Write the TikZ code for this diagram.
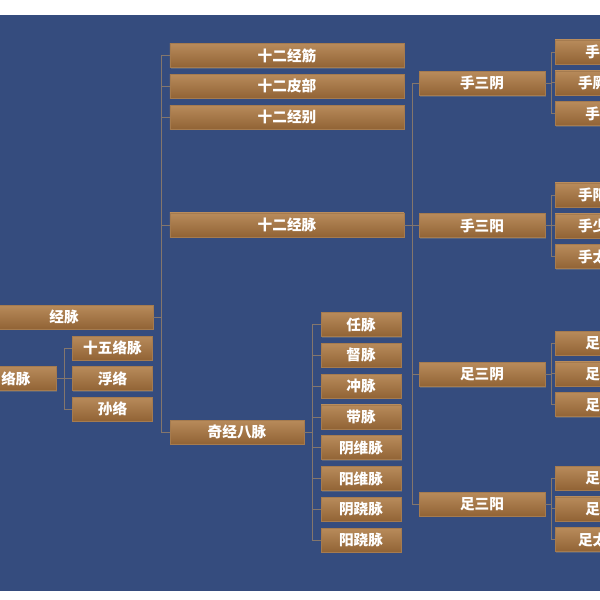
\documentclass[tikz,border=0pt]{standalone}
\usepackage{fontspec}
\setmainfont{Noto Sans CJK SC}
\usetikzlibrary{shadows}

\definecolor{bgblue}{HTML}{354C7E}
\definecolor{boxtop}{HTML}{B88B5B}
\definecolor{boxbot}{HTML}{916335}
\definecolor{boxline}{HTML}{A57B4F}
\definecolor{linkgray}{HTML}{84766C}

\tikzset{
  box/.style={draw=boxline, line width=0.4pt, top color=boxtop, bottom color=boxbot,
    text=white, font=\bfseries\fontsize{12.5}{12.5}\selectfont, minimum height=0.72cm,
    inner sep=0pt, drop shadow={opacity=0.45, shadow xshift=0.8pt, shadow yshift=-1pt}},
  wide/.style={box, minimum width=7.02cm},
  mid/.style={box, minimum width=3.78cm},
  small/.style={box, minimum width=2.4cm},
  far/.style={box, minimum width=4.02cm},
  link/.style={draw=linkgray, line width=0.6pt},
}

\begin{document}
\begin{tikzpicture}[x=0.03cm, y=-0.03cm, node distance=0.924cm]
\useasboundingbox (0,0) rectangle (600,600);
\fill[white] (0,0) rectangle (600,600);
\fill[bgblue] (0,15) rectangle (600,591);
\begin{scope}
\clip (0,15) rectangle (600,591);

\node(jingmai)	[box, minimum width=5.34cm] at (64,317)	{经脉};
\node(luomai)	[small] at (16,378.5)	{络脉};

\node(shiwu)	[small] at (112.5,348)	{十五络脉};
\node(fuluo)	[small, below of=shiwu, node distance=0.915cm]	{浮络};
\node(sunluo)	[small, below of=fuluo, node distance=0.915cm]	{孙络};

\node(jingjin)	[wide] at (287,55.5)	{十二经筋};
\node(pibu)	[wide, below of=jingjin]	{十二皮部};
\node(jingbie)	[wide, below of=pibu]	{十二经别};
\node(zhengjing)	[wide] at (287,225)	{十二经脉};
\node(qijing)	[far] at (237,432)	{奇经八脉};

\node(ren)	[small] at (361,324.5)	{任脉};
\node(du)	[small, below of=ren]	{督脉};
\node(chong)	[small, below of=du]	{冲脉};
\node(dai)	[small, below of=chong]	{带脉};
\node(yinwei)	[small, below of=dai]	{阴维脉};
\node(yangwei)	[small, below of=yinwei]	{阳维脉};
\node(yinqiao)	[small, below of=yangwei]	{阴跷脉};
\node(yangqiao)	[small, below of=yinqiao]	{阳跷脉};

\node(shousanyin)	[mid] at (482,83.5)	{手三阴};
\node(shousanyang)	[mid] at (482,225.5)	{手三阳};
\node(zusanyin)	[mid] at (482,374.5)	{足三阴};
\node(zusanyang)	[mid] at (482,504)	{足三阳};

\node(shouyin1)	[far] at (622,52)	{手太阴肺经};
\node(shouyin2)	[far, below of=shouyin1]	{手厥阴心包经};
\node(shouyin3)	[far, below of=shouyin2]	{手少阴心经};

\node(shouyang1)	[far] at (622,195)	{手阳明大肠经};
\node(shouyang2)	[far, below of=shouyang1]	{手少阳三焦经};
\node(shouyang3)	[far, below of=shouyang2]	{手太阳小肠经};

\node(zuyin1)	[far] at (622,343)	{足太阴脾经};
\node(zuyin2)	[far, below of=zuyin1]	{足厥阴肝经};
\node(zuyin3)	[far, below of=zuyin2]	{足少阴肾经};

\node(zuyang1)	[far] at (622,478)	{足阳明胃经};
\node(zuyang2)	[far, below of=zuyang1]	{足少阳胆经};
\node(zuyang3)	[far, below of=zuyang2]	{足太阳膀胱经};

\foreach \x in {jingjin,pibu,jingbie,zhengjing,qijing} {
	\draw [link] (jingmai.east) -- ++(8,0) |- (\x.west); }

\foreach \x in {shiwu,fuluo,sunluo} {
	\draw [link] (luomai.east) -- ++(8,0) |- (\x.west); }

\foreach \x in {ren,du,chong,dai,yinwei,yangwei,yinqiao,yangqiao} {
	\draw [link] (qijing.east) -- ++(8,0) |- (\x.west); }

\foreach \x in {shousanyin,shousanyang,zusanyin,zusanyang} {
	\draw [link] (zhengjing.east) -- ++(8,0) |- (\x.west); }

\foreach \x in {1,2,3} {
	\draw [link] (shousanyin.east) -- ++(6,0) |- (shouyin\x.west);
	\draw [link] (shousanyang.east) -- ++(6,0) |- (shouyang\x.west);
	\draw [link] (zusanyin.east) -- ++(6,0) |- (zuyin\x.west);
	\draw [link] (zusanyang.east) -- ++(6,0) |- (zuyang\x.west);
}
\end{scope}
\end{tikzpicture}
\end{document}
